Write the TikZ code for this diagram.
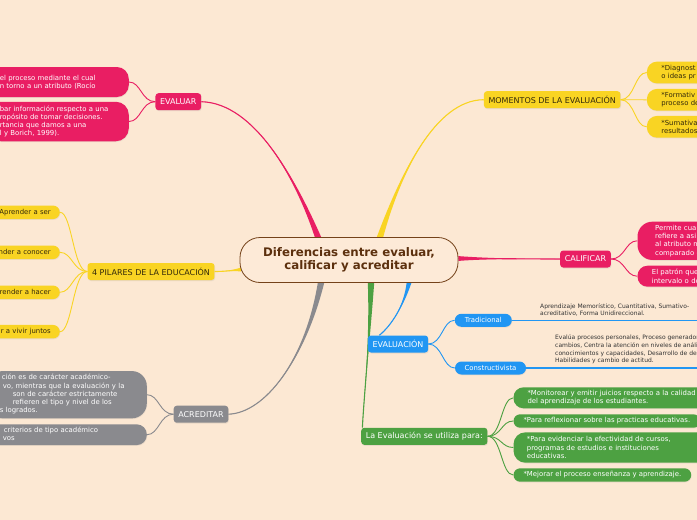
\documentclass[tikz,border=0pt]{standalone}
\usepackage{fontspec}
\setmainfont{DejaVu Sans}
\usepackage{tikz}
\usetikzlibrary{calc,shadows}
\definecolor{bgpeach}{HTML}{FCE8D3}
\definecolor{hubfill}{HTML}{FDEAD7}
\definecolor{hubline}{HTML}{744219}
\definecolor{hubtext}{HTML}{5C300E}
\definecolor{mpink}{HTML}{E91E63}
\definecolor{myellow}{HTML}{F9D423}
\definecolor{ytext}{HTML}{33290A}
\definecolor{mgray}{HTML}{8A8A8E}
\definecolor{mblue}{HTML}{2196F3}
\definecolor{mgreen}{HTML}{4DA142}
\pgfdeclarelayer{back}
\pgfsetlayers{back,main}
% thick-to-thin branch: colour, root, control 1, control 2, end, half width
\newcommand{\taper}[6]{%
  \fill[#1] ($#2+#6$) .. controls #3 and #4 .. #5 .. controls #4 and #3 .. ($#2-#6$) -- cycle;
  \draw[#1, line width=1.1pt] #2 .. controls #3 and #4 .. #5;
}
\tikzset{
  hub/.style={rectangle, rounded corners=20pt, draw=hubline, line width=0.8pt, fill=hubfill, text=hubtext, minimum width=218pt, minimum height=45pt, align=center, font=\bfseries\fontsize{11.8}{13.5}\selectfont},
  topic/.style={rectangle, rounded corners=3pt, inner xsep=4.6pt, inner ysep=0pt, minimum height=17pt, font=\fontsize{8}{9.5}\selectfont, drop shadow={opacity=0.15, shadow xshift=0.6pt, shadow yshift=-1pt}},
  leaf/.style={rectangle, inner ysep=0pt, align=left, font=\fontsize{6.9}{8.2}\selectfont, drop shadow={opacity=0.12, shadow xshift=0.5pt, shadow yshift=-0.8pt}},
  note/.style={inner sep=0pt, align=left, text=black!80, font=\fontsize{6}{7.6}\selectfont},
  twig/.style={line width=0.9pt},
}
\begin{document}
\begin{tikzpicture}[x=1pt, y=-1pt]
  \useasboundingbox (0,0) rectangle (697,520);

  \node[hub] (hub) at (349,260) {Diferencias entre evaluar,\\calificar y acreditar};

  \node[topic, fill=mpink, text=white] (evaluar) at (178.3,101.7) {EVALUAR};
  \node[topic, fill=myellow, text=ytext] (momentos) at (552.2,99.7) {MOMENTOS DE LA EVALUACIÓN};
  \node[topic, fill=myellow, text=ytext] (pilares) at (151,271.5) {4 PILARES DE LA EDUCACIÓN};
  \node[topic, fill=mgray, text=white] (acreditar) at (201,414.2) {ACREDITAR};
  \node[topic, fill=mpink, text=white] (calificar) at (585.5,259) {CALIFICAR};
  \node[topic, fill=mblue, text=white] (evaluacion) at (398,344) {EVALUACIÓN};
  \node[topic, fill=mgreen, text=white] (usos) at (424.3,436.3) {La Evaluación se utiliza para:};

  % EVALUAR
  \node[leaf, fill=mpink, text=white, anchor=east, text width=117pt, inner xsep=12pt, minimum height=30pt, rounded corners=12pt] (ev1) at (129,82)
    {el proceso mediante el cual\\n torno a un atributo (Rocío};
  \node[leaf, fill=mpink, text=white, anchor=east, text width=117pt, inner xsep=12pt, minimum height=39.5pt, rounded corners=13pt] (ev2) at (129,121.5)
    {bar información respecto a una\\ropósito de tomar decisiones.\\rtancia que damos a una\\l y Borich, 1999).};
  \draw[twig, mpink] (evaluar.west) .. controls +(-14,0) and +(12,0) .. (ev1.east);
  \draw[twig, mpink] (evaluar.west) .. controls +(-14,0) and +(12,0) .. (ev2.east);

  % 4 PILARES
  \node[leaf, fill=myellow, text=ytext, anchor=east, text width=80pt, align=right, inner xsep=9pt, minimum height=13.5pt, rounded corners=6.7pt] (pil1) at (60,212.3) {Aprender a ser};
  \node[leaf, fill=myellow, text=ytext, anchor=east, text width=80pt, align=right, inner xsep=9pt, minimum height=13.5pt, rounded corners=6.7pt] (pil2) at (60,252.3) {nder a conocer};
  \node[leaf, fill=myellow, text=ytext, anchor=east, text width=80pt, align=right, inner xsep=9pt, minimum height=13.5pt, rounded corners=6.7pt] (pil3) at (60,292.3) {render a hacer};
  \node[leaf, fill=myellow, text=ytext, anchor=east, text width=80pt, align=right, inner xsep=9pt, minimum height=13.5pt, rounded corners=6.7pt] (pil4) at (60,331.7) {r a vivir juntos};
  \foreach \p in {pil1,pil2,pil3,pil4}
    \draw[twig, myellow] (pilares.west) .. controls +(-14,0) and +(12,0) .. (\p.east);

  % ACREDITAR
  \node[leaf, fill=mgray, text=white, anchor=east, text width=135pt, inner xsep=12pt, minimum height=47.3pt, rounded corners=15pt] (ac1) at (147,394.7)
    {\begin{tabular}{@{}l@{}}
      \hspace*{2pt}ción es de carácter académico-\\
      \hspace*{3pt}vo, mientras que la evaluación y la\\
      \hspace*{13pt}son de carácter estrictamente\\
      \hspace*{13pt}refieren el tipo y nivel de los\\
      s logrados.
    \end{tabular}};
  \node[leaf, fill=mgray, text=white, anchor=east, text width=135pt, inner xsep=12pt, minimum height=20.7pt, rounded corners=10pt] (ac2) at (147,434.7)
    {\begin{tabular}{@{}l@{}}
      \hspace*{4pt}criterios de tipo académico\\
      \hspace*{3pt}vos
    \end{tabular}};
  \draw[twig, mgray] (acreditar.west) .. controls +(-14,0) and +(12,0) .. (ac1.east);
  \draw[twig, mgray] (acreditar.west) .. controls +(-14,0) and +(12,0) .. (ac2.east);

  % MOMENTOS
  \node[leaf, fill=myellow, text=ytext, anchor=west, text width=60pt, inner xsep=14.5pt, minimum height=21.7pt, rounded corners=10pt] (mo1) at (646.7,72.5) {*Diagnost\\o ideas pr};
  \node[leaf, fill=myellow, text=ytext, anchor=west, text width=60pt, inner xsep=14.5pt, minimum height=21.7pt, rounded corners=10pt] (mo2) at (646.7,99.8) {*Formativ\\proceso de};
  \node[leaf, fill=myellow, text=ytext, anchor=west, text width=60pt, inner xsep=14.5pt, minimum height=21.7pt, rounded corners=10pt] (mo3) at (646.7,126.8) {*Sumativa\\resultados};
  \foreach \m in {mo1,mo2,mo3}
    \draw[twig, myellow] (momentos.east) .. controls +(14,0) and +(-12,0) .. (\m.west);

  % CALIFICAR
  \node[leaf, fill=mpink, text=white, anchor=west, text width=60pt, inner xsep=17.7pt, minimum height=38.3pt, rounded corners=15pt] (ca1) at (637.3,240.8)
    {Permite cua\\refiere a asi\\al atributo m\\comparado c};
  \node[leaf, fill=mpink, text=white, anchor=west, text width=60pt, inner xsep=14.4pt, minimum height=21pt, rounded corners=10pt] (ca2) at (637.3,276.2)
    {El patrón que\\intervalo o de};
  \draw[twig, mpink] (calificar.east) .. controls +(14,0) and +(-12,0) .. (ca1.west);
  \draw[twig, mpink] (calificar.east) .. controls +(14,0) and +(-12,0) .. (ca2.west);

  % EVALUACION
  \node[leaf, fill=mblue, text=white, align=center, inner xsep=0pt, minimum width=57pt, minimum height=13pt, rounded corners=6.5pt] (trad) at (483.3,320.3) {Tradicional};
  \node[leaf, fill=mblue, text=white, align=center, inner xsep=0pt, minimum width=71pt, minimum height=13pt, rounded corners=6.5pt] (cons) at (490.5,368) {Constructivista};
  \coordinate (tradend) at (697,320.3);
  \coordinate (consend) at (697,368);
  \draw[mblue, line width=1.6pt] (trad.east) -- (tradend);
  \draw[mblue, line width=1.6pt] (cons.east) -- (consend);
  \node[note, anchor=north west] (tradnote) at (540,303)
    {Aprendizaje Memorístico, Cuantitativa, Sumativo-\\acreditativo, Forma Unidireccional.};
  \node[note, anchor=north west] (consnote) at (555,334.8)
    {Evalúa procesos personales, Proceso generador de\\cambios, Centra la atención en niveles de análisis\\conocimientos y capacidades, Desarrollo de destrezas\\Habilidades y cambio de actitud.};
  \draw[twig, mblue] (evaluacion.east) .. controls +(14,0) and +(-12,0) .. (trad.west);
  \draw[twig, mblue] (evaluacion.east) .. controls +(14,0) and +(-12,0) .. (cons.west);

  % La Evaluacion se utiliza para
  \node[leaf, fill=mgreen, text=white, anchor=west, text width=175pt, inner xsep=14pt, minimum height=21pt, rounded corners=10pt] (us1) at (513.3,397.8)
    {*Monitorear y emitir juicios respecto a la calidad\\del aprendizaje de los estudiantes.};
  \node[leaf, fill=mgreen, text=white, anchor=west, inner xsep=10pt, minimum height=13.4pt, rounded corners=6.7pt] (us2) at (513.3,421)
    {*Para reflexionar sobre las practicas educativas.};
  \node[leaf, fill=mgreen, text=white, anchor=west, text width=175pt, inner xsep=13.4pt, minimum height=30.4pt, rounded corners=12pt] (us3) at (513.3,447.5)
    {*Para evidenciar la efectividad de cursos,\\programas de estudios e instituciones\\educativas.};
  \node[leaf, fill=mgreen, text=white, anchor=west, inner xsep=10pt, minimum height=13.4pt, rounded corners=6.7pt] (us4) at (513.3,475)
    {*Mejorar el proceso enseñanza y aprendizaje.};
  \foreach \u in {us1,us2,us3,us4}
    \draw[twig, mgreen] (usos.east) .. controls +(14,0) and +(-12,0) .. (\u.west);

  % main branches
  \coordinate (evalroot) at ($(hub.north)+(-31,0)$);
  \coordinate (momroot) at ($(hub.north)+(31,0)$);
  \coordinate (pilroot) at (241,269.5);
  \coordinate (acrroot) at ($(hub.south)+(-28,0)$);
  \coordinate (calroot) at ($(hub.east)+(0,-1.5)$);
  \coordinate (blueroot) at ($(hub.south)+(60,0)$);
  \coordinate (greenroot) at ($(hub.south)+(22,0)$);
  \begin{pgfonlayer}{back}
    \fill[bgpeach] (0,0) rectangle (697,520);
    \taper{mpink}{(evalroot)}{(296,180)}{(255,103)}{(evaluar.east)}{(3.2,0)}
    \taper{myellow}{(momroot)}{(400,175)}{(435,100)}{(momentos.west)}{(3.2,0)}
    \taper{myellow}{(pilroot)}{(232,270.5)}{(224,271.5)}{(pilares.east)}{(0,2)}
    \taper{mgray}{(acrroot)}{(305,360)}{(265,413)}{(acreditar.east)}{(3.2,0)}
    \taper{mpink}{(calroot)}{(490,258.5)}{(530,259)}{(calificar.west)}{(0,2.4)}
    \taper{mblue}{(blueroot)}{(404,305)}{(392,325)}{(evaluacion.155)}{(2.4,0)}
    \taper{mgreen}{(greenroot)}{(370,340)}{(364,395)}{(usos.172)}{(3.2,0)}
  \end{pgfonlayer}
\end{tikzpicture}
\end{document}
